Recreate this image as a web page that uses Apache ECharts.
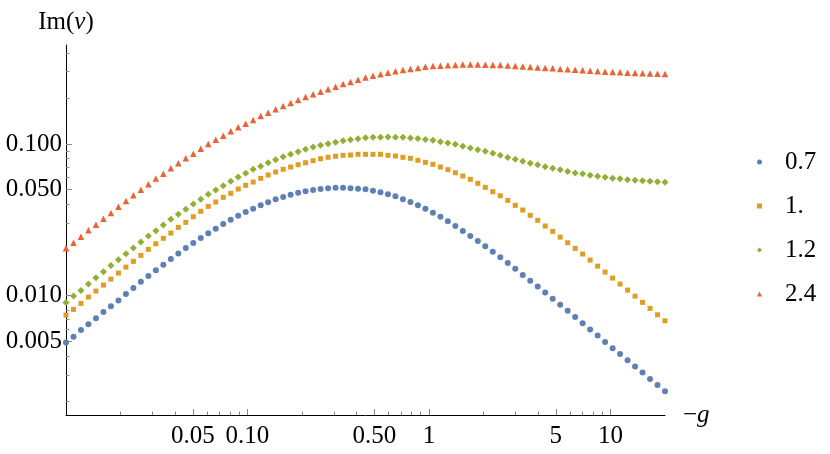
<!DOCTYPE html>
<html><head><meta charset="utf-8">
<script src="https://cdn.jsdelivr.net/npm/echarts@6/dist/echarts.min.js"></script>
<style>html,body{margin:0;padding:0;background:#fff}#c{width:830px;height:454px}</style>
</head><body><div id="c"></div>
<script>
// ---- data ----
const gValues = [0.01,0.011,0.01209,0.01329,0.01462,0.01608,0.01768,0.01945,0.02139,0.02352,
0.02586,0.02844,0.03127,0.03439,0.03782,0.04159,0.04573,0.05029,0.0553,0.06081,
0.06687,0.07354,0.08087,0.08893,0.09779,0.1075,0.1183,0.13,0.143,0.1573,
0.1729,0.1902,0.2091,0.23,0.2529,0.2781,0.3058,0.3363,0.3698,0.4067,
0.4472,0.4918,0.5408,0.5947,0.654,0.7192,0.7909,0.8697,0.9564,1.052,
1.157,1.272,1.399,1.538,1.691,1.86,2.045,2.249,2.473,2.72,
2.991,3.289,3.617,3.977,4.374,4.81,5.289,5.816,6.396,7.033,
7.734,8.505,9.353,10.29,11.31,12.44,13.68,15.04,16.54,18.19,20];

const seriesNames = ['0.7', '1.', '1.2', '2.4'];

const im07 = [0.00491,0.00535,0.00592,0.00648,0.00710,0.00778,0.00852,0.00927,0.01023,0.01121,
0.01234,0.01345,0.01467,0.01597,0.01741,0.01893,0.02058,0.02221,0.02396,0.02574,
0.02760,0.02964,0.03165,0.03363,0.03558,0.03741,0.03939,0.04123,0.04315,0.04468,
0.04627,0.04770,0.04873,0.04971,0.05047,0.05101,0.05148,0.05148,0.05101,0.05070,
0.05023,0.04917,0.04799,0.04656,0.04516,0.04315,0.04142,0.03939,0.03741,0.03520,
0.03312,0.03089,0.02876,0.02665,0.02470,0.02289,0.02112,0.01945,0.01787,0.01639,
0.01503,0.01366,0.01252,0.01150,0.01050,0.00953,0.00869,0.00794,0.00721,0.00658,
0.00598,0.00546,0.00495,0.00450,0.00411,0.00375,0.00341,0.00311,0.00282,0.00257,
0.00234];

const im10 = [0.00744,0.00811,0.00888,0.00978,0.01071,0.01173,0.01285,0.01408,0.01542,0.01682,
0.01842,0.02018,0.02197,0.02386,0.02585,0.02819,0.03042,0.03312,0.03596,0.03880,
0.04142,0.04448,0.04727,0.05047,0.05338,0.05613,0.05938,0.06244,0.06535,0.06807,
0.07049,0.07301,0.07526,0.07759,0.07998,0.08171,0.08296,0.08423,0.08462,0.08551,
0.08551,0.08551,0.08551,0.08423,0.08333,0.08171,0.08046,0.07806,0.07570,0.07345,
0.07049,0.06766,0.06466,0.06149,0.05848,0.05503,0.05179,0.04843,0.04557,0.04249,
0.03939,0.03667,0.03384,0.03136,0.02876,0.02653,0.02432,0.02231,0.02049,0.01879,
0.01715,0.01565,0.01429,0.01305,0.01191,0.01087,0.00992,0.00902,0.00823,0.00747,
0.00682];

const im12 = [0.00902,0.00992,0.01082,0.01191,0.01311,0.01436,0.01582,0.01723,0.01887,0.02058,
0.02255,0.02470,0.02678,0.02919,0.03184,0.03436,0.03707,0.04018,0.04321,0.04656,
0.04971,0.05307,0.05673,0.06056,0.06407,0.06807,0.07124,0.07526,0.07877,0.08245,
0.08551,0.08896,0.09226,0.09554,0.09804,0.10046,0.10261,0.10515,0.10675,0.10839,
0.11005,0.11071,0.11071,0.11123,0.11071,0.11071,0.10955,0.10872,0.10708,0.10578,
0.10356,0.10153,0.09955,0.09656,0.09410,0.09170,0.08950,0.08681,0.08423,0.08146,
0.07925,0.07689,0.07470,0.07290,0.07083,0.06912,0.06756,0.06584,0.06436,0.06358,
0.06215,0.06121,0.06038,0.05947,0.05902,0.05813,0.05760,0.05716,0.05673,0.05639,
0.05587];

const im24 = [0.02049,0.02231,0.02444,0.02694,0.02933,0.03213,0.03504,0.03856,0.04205,0.04586,
0.04986,0.05429,0.05920,0.06358,0.06912,0.07458,0.08046,0.08630,0.09311,0.10000,
0.10675,0.11344,0.12147,0.12889,0.13614,0.14400,0.15301,0.16088,0.16943,0.17816,
0.18647,0.19516,0.20426,0.21315,0.22109,0.22997,0.23888,0.24928,0.25656,0.26532,
0.27433,0.28234,0.28845,0.29550,0.30231,0.30785,0.31257,0.31743,0.32326,0.32723,
0.32867,0.33072,0.33224,0.33424,0.33478,0.33478,0.33370,0.33224,0.33171,0.32973,
0.32723,0.32476,0.32231,0.31989,0.31743,0.31601,0.31311,0.31167,0.30888,0.30697,
0.30465,0.30231,0.29964,0.29868,0.29738,0.29550,0.29417,0.29329,0.29194,0.29067,
0.28973];

const xMin = 0.01, xMax = 20;
const yMin = 0.00163, yMax = 0.45;

const xMajorTicks = [0.05, 0.1, 0.5, 1, 5, 10];
const xMajorLabels = ['0.05', '0.10', '0.50', '1', '5', '10'];
const xMinorTicks = [0.02,0.03,0.04,0.06,0.07,0.08,0.09,0.2,0.3,0.4,0.6,0.7,0.8,0.9,2,3,4,6,7,8,9];
const yMajorTicks = [0.005, 0.01, 0.05, 0.1];
const yMajorLabels = ['0.005', '0.010', '0.050', '0.100'];
const yMinorTicks = [0.002,0.003,0.004,0.006,0.007,0.008,0.009,0.02,0.03,0.04,0.06,0.07,0.08,0.09,0.2,0.3,0.4];

// ---- styles ----
const FONT = '"Liberation Serif", "Times New Roman", Times, serif';
const FS = 25;
const seriesValues = [im07, im10, im12, im24];
const seriesStyle = [
  { symbol: 'circle', size: 6, color: '#5E81B5' },
  { symbol: 'rect', size: 5, color: '#E19C24' },
  { symbol: 'diamond', size: 7, color: '#8FB032' },
  { symbol: 'triangle', size: 6.5, color: '#EB6235' }
];

function labelFor(ticks, labels) {
  return function (v) {
    for (let i = 0; i < ticks.length; i++) {
      if (Math.abs(Math.log10(ticks[i]) - v) < 1e-6) return labels[i];
    }
    return '';
  };
}
const lg = v => Math.log10(v);
const tickColor = '#888';

const chart = echarts.init(document.getElementById('c'), null, { renderer: 'canvas' });
chart.setOption({
  animation: false,
  backgroundColor: '#fff',
  textStyle: { fontFamily: FONT },
  grid: { left: 66, right: 165, top: 45, bottom: 39, containLabel: false },
  legend: {
    orient: 'vertical', left: 752, top: 144,
    itemWidth: 5, itemHeight: 5, itemGap: 18,
    selectedMode: false,
    textStyle: { fontFamily: FONT, fontSize: FS, color: '#000', lineHeight: 26, padding: [0, 0, 0, 18] },
    data: seriesNames.map((n, k) => ({ name: n, icon: seriesStyle[k].symbol }))
  },
  xAxis: [
    {
      type: 'log', logBase: 10, min: xMin, max: xMax, position: 'bottom',
      axisLine: { show: true, onZero: false, lineStyle: { color: '#000', width: 1 } },
      axisTick: { show: false }, axisLabel: { show: false },
      splitLine: { show: false }, minorTick: { show: false }, minorSplitLine: { show: false },
      name: '{m|\u2212}{g|g}', nameLocation: 'end', nameGap: 18,
      nameTextStyle: {
        fontFamily: FONT, fontSize: FS, color: '#000',
        rich: { m: { fontFamily: FONT, fontSize: FS, color: '#000' },
                g: { fontFamily: FONT, fontSize: FS, fontStyle: 'italic', color: '#000' } }
      }
    },
    {
      type: 'value', min: lg(xMin), max: lg(xMax), position: 'bottom',
      axisLine: { show: false, onZero: false },
      axisTick: { show: true, inside: true, length: 6, customValues: xMajorTicks.map(lg), lineStyle: { color: tickColor } },
      axisLabel: { show: true, customValues: xMajorTicks.map(lg), formatter: labelFor(xMajorTicks, xMajorLabels),
                   margin: 9, fontFamily: FONT, fontSize: FS, color: '#000', hideOverlap: false },
      splitLine: { show: false }
    },
    {
      type: 'value', min: lg(xMin), max: lg(xMax), position: 'bottom',
      axisLine: { show: false, onZero: false },
      axisTick: { show: true, inside: true, length: 3.5, customValues: xMinorTicks.map(lg), lineStyle: { color: tickColor } },
      axisLabel: { show: false },
      splitLine: { show: false }
    }
  ],
  yAxis: [
    {
      type: 'log', logBase: 10, min: yMin, max: yMax, position: 'left',
      axisLine: { show: true, onZero: false, lineStyle: { color: '#000', width: 1 } },
      axisTick: { show: false }, axisLabel: { show: false },
      splitLine: { show: false }, minorTick: { show: false }, minorSplitLine: { show: false },
      name: 'Im({i|\u03bd})', nameLocation: 'end', nameGap: 10,
      nameTextStyle: {
        fontFamily: FONT, fontSize: FS, color: '#000',
        rich: { i: { fontFamily: FONT, fontSize: FS, fontStyle: 'italic', color: '#000' } }
      }
    },
    {
      type: 'value', min: lg(yMin), max: lg(yMax), position: 'left',
      axisLine: { show: false, onZero: false },
      axisTick: { show: true, inside: true, length: 6, customValues: yMajorTicks.map(lg), lineStyle: { color: tickColor } },
      axisLabel: { show: true, customValues: yMajorTicks.map(lg), formatter: labelFor(yMajorTicks, yMajorLabels),
                   margin: 4, fontFamily: FONT, fontSize: FS, color: '#000', hideOverlap: false },
      splitLine: { show: false }
    },
    {
      type: 'value', min: lg(yMin), max: lg(yMax), position: 'left',
      axisLine: { show: false, onZero: false },
      axisTick: { show: true, inside: true, length: 3.5, customValues: yMinorTicks.map(lg), lineStyle: { color: tickColor } },
      axisLabel: { show: false },
      splitLine: { show: false }
    }
  ],
  series: seriesValues.map((vals, k) => ({
    type: 'scatter', name: seriesNames[k],
    xAxisIndex: 0, yAxisIndex: 0,
    symbol: seriesStyle[k].symbol, symbolSize: seriesStyle[k].size,
    itemStyle: { color: seriesStyle[k].color, opacity: 1 },
    silent: true,
    data: gValues.map((g, i) => [g, vals[i]])
  }))
});
</script></body></html>
